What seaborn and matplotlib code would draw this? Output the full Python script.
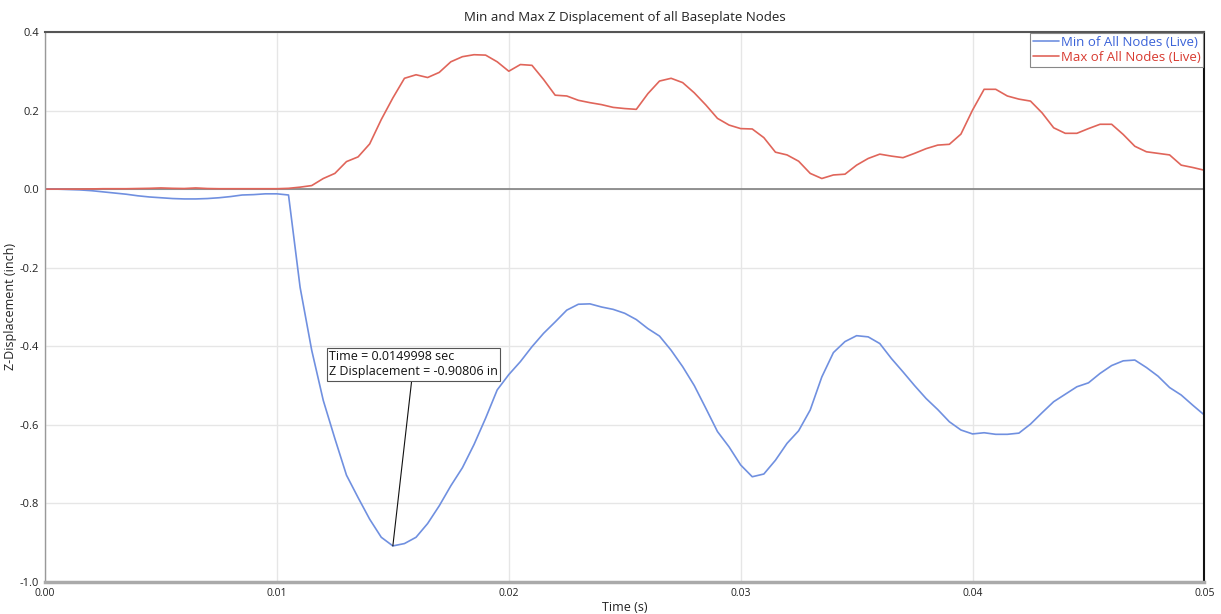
import pandas as pd
import numpy as np
import matplotlib
matplotlib.use('Agg')
import matplotlib.pyplot as plt
import seaborn as sns

# time samples (s), step 0.0005
time_s = [round(i * 0.0005, 4) for i in range(101)]

# minimum Z displacement of all nodes (inch)
min_disp = [
    0.0, 0.0, -0.001, -0.002, -0.004, -0.007, -0.010, -0.013, -0.017, -0.020,
    -0.022, -0.024, -0.025, -0.025, -0.024, -0.022, -0.019, -0.015, -0.014, -0.012,
    -0.012, -0.015, -0.250, -0.410, -0.538, -0.635, -0.728, -0.785, -0.840, -0.886,
    -0.908, -0.902, -0.886, -0.851, -0.806, -0.755, -0.709, -0.650, -0.583, -0.511,
    -0.472, -0.439, -0.401, -0.367, -0.338, -0.308, -0.293, -0.292, -0.300, -0.306,
    -0.316, -0.332, -0.355, -0.374, -0.410, -0.452, -0.500, -0.558, -0.617, -0.656,
    -0.702, -0.732, -0.725, -0.690, -0.647, -0.615, -0.562, -0.478, -0.416, -0.388,
    -0.373, -0.376, -0.393, -0.431, -0.465, -0.500, -0.533, -0.561, -0.592, -0.613,
    -0.623, -0.620, -0.624, -0.624, -0.621, -0.598, -0.569, -0.541, -0.522, -0.503,
    -0.493, -0.469, -0.449, -0.437, -0.435, -0.454, -0.476, -0.505, -0.524, -0.550,
    -0.575,
]

# maximum Z displacement of all nodes (inch)
max_disp = [
    0.0, 0.0, 0.0, 0.0, 0.0005, 0.001, 0.001, 0.001, 0.0015, 0.002,
    0.003, 0.002, 0.0015, 0.003, 0.0015, 0.001, 0.001, 0.001, 0.001, 0.001,
    0.001, 0.002, 0.005, 0.009, 0.027, 0.040, 0.070, 0.082, 0.115, 0.177,
    0.232, 0.282, 0.291, 0.284, 0.297, 0.324, 0.337, 0.342, 0.341, 0.324,
    0.300, 0.317, 0.315, 0.279, 0.239, 0.237, 0.226, 0.220, 0.215, 0.208,
    0.205, 0.203, 0.243, 0.275, 0.282, 0.271, 0.245, 0.214, 0.180, 0.163,
    0.154, 0.153, 0.131, 0.094, 0.087, 0.071, 0.040, 0.027, 0.036, 0.038,
    0.061, 0.078, 0.089, 0.084, 0.080, 0.091, 0.103, 0.112, 0.114, 0.140,
    0.201, 0.254, 0.254, 0.237, 0.229, 0.224, 0.194, 0.156, 0.142, 0.142,
    0.154, 0.165, 0.165, 0.139, 0.109, 0.095, 0.091, 0.087, 0.061, 0.055,
    0.048,
]

series_names = ['Min of All Nodes (Live)', 'Max of All Nodes (Live)']
x_ticks = [0.0, 0.01, 0.02, 0.03, 0.04, 0.05]
x_tick_labels = ['0.00', '0.01', '0.02', '0.03', '0.04', '0.05']
y_ticks = [0.4, 0.2, 0.0, -0.2, -0.4, -0.6, -0.8, -1.0]
y_tick_labels = ['0.4', '0.2', '0.0', '-0.2', '-0.4', '-0.6', '-0.8', '-1.0']

# annotated point
peak_t = 0.0149998
peak_z = -0.90806

df = pd.DataFrame({
    'Time': time_s * 2,
    'Z': min_disp + max_disp,
    'Series': [series_names[0]] * len(time_s) + [series_names[1]] * len(time_s),
})

sns.set_style('whitegrid')
plt.rcParams['font.family'] = ['Open Sans', 'DejaVu Sans']

fig = plt.figure(figsize=(12.21, 6.14), dpi=100)
ax = fig.add_axes([0.0369, 0.052, 0.9495, 0.896])

line_colors = ['#7090e0', '#e0655a']
text_colors = ['#3a62d8', '#d83a30']
sns.lineplot(data=df, x='Time', y='Z', hue='Series', palette=line_colors,
             linewidth=1.2, ax=ax, legend=False)

ax.axhline(0, color='#808080', linewidth=1.2, zorder=1)

ax.set_xlim(0, 0.05)
ax.set_ylim(-1.0, 0.4)
ax.set_xticks(x_ticks)
ax.set_xticklabels(x_tick_labels, fontsize=7.5)
ax.set_yticks(y_ticks)
ax.set_yticklabels(y_tick_labels, fontsize=8)
ax.grid(True, color='#e6e6e6', linewidth=1)
ax.tick_params(axis='both', length=3, width=0.8, color='#888888', pad=1.5,
               labelcolor='#222222')

ax.spines['top'].set_color('#555555')
ax.spines['top'].set_linewidth(1.5)
ax.spines['right'].set_color('#111111')
ax.spines['right'].set_linewidth(1.5)
ax.spines['left'].set_color('#999999')
ax.spines['left'].set_linewidth(1.0)
ax.spines['bottom'].set_color('#aaaaaa')
ax.spines['bottom'].set_linewidth(2.5)

ax.set_title('Min and Max Z Displacement of all Baseplate Nodes', fontsize=9.5,
             color='#222222', pad=8)
ax.set_xlabel('Time (s)', fontsize=9, color='#222222', labelpad=1)
ax.set_ylabel('Z-Displacement (inch)', fontsize=9, color='#222222', labelpad=2)

handles = [plt.Line2D([], [], color=c, linewidth=1.2) for c in line_colors]
leg = ax.legend(handles, series_names, loc='upper right', fontsize=9.5,
                labelcolor=text_colors, frameon=True, fancybox=False,
                framealpha=1, edgecolor='#888888', borderpad=0.2,
                handlelength=2.0, handletextpad=0.1, labelspacing=0.15,
                borderaxespad=0.1)
leg.get_frame().set_linewidth(0.8)

ax.annotate(f'Time = {peak_t} sec\nZ Displacement = {peak_z} in',
            xy=(peak_t, peak_z), xytext=(0.01225, -0.41),
            textcoords='data', ha='left', va='top', fontsize=9,
            color='#111111', linespacing=1.2,
            bbox=dict(boxstyle='square,pad=0.2', fc='white', ec='#555555', lw=0.8),
            arrowprops=dict(arrowstyle='-', color='#111111', lw=0.8,
                            shrinkA=0, shrinkB=0))

fig.savefig('out.png', dpi=100)
